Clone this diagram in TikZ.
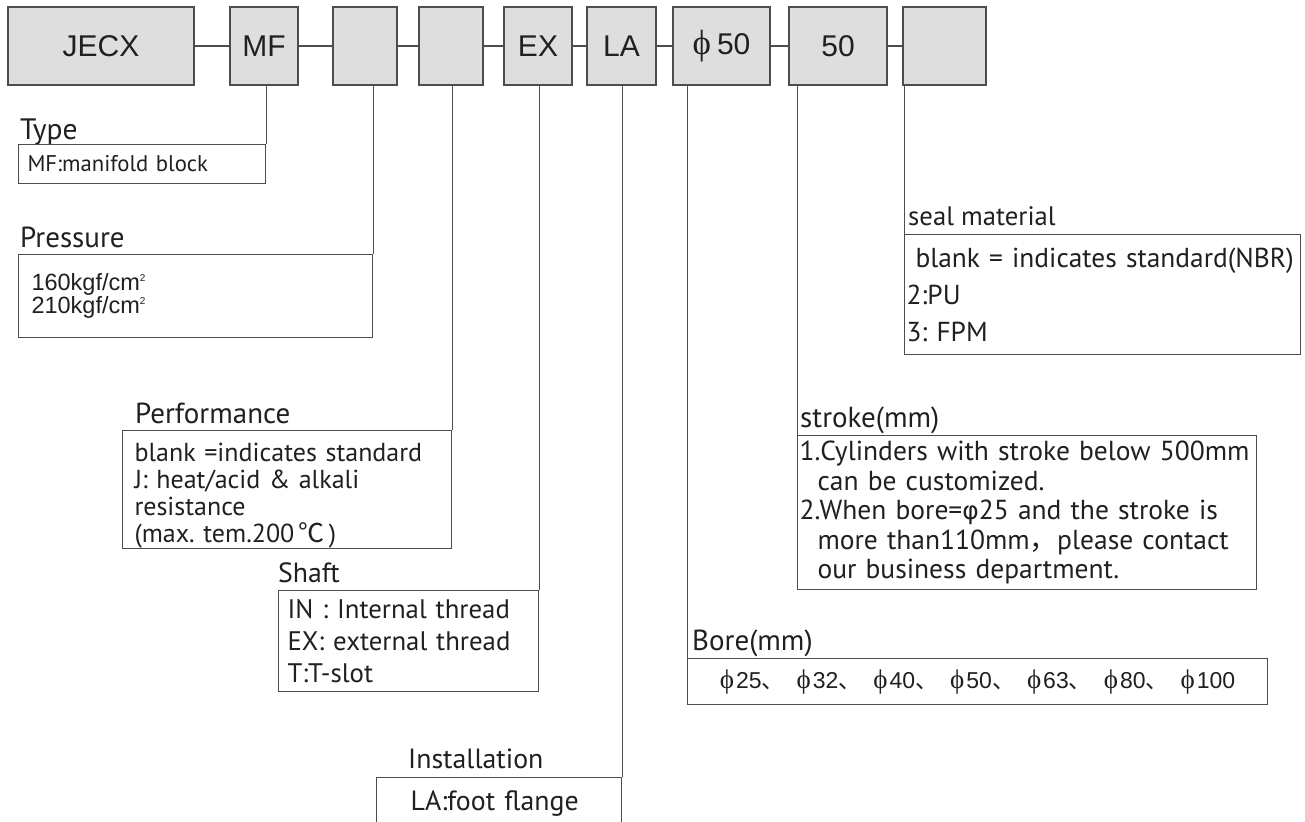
\documentclass[tikz,border=0pt]{standalone}
\usepackage{fontspec}
\setmainfont{PT Sans}
\newfontfamily\arialfont{Liberation Sans}
\newfontfamily\timesfont{Liberation Serif}
\newfontfamily\dejavufont{DejaVu Sans}
\newfontfamily\cjk{Noto Sans CJK SC}
\frenchspacing

\definecolor{boxfill}{HTML}{DEDEDE}
\definecolor{boxline}{HTML}{4D4D4D}
\definecolor{ink}{HTML}{231F20}

\newcommand{\dphi}{{\timesfont\fs{27}{27}ϕ}\hspace{2pt}}
\newcommand{\fs}[2]{\fontsize{#1}{#2}\selectfont}
\newcommand{\sep}{{\cjk 、}\hspace{12pt}}

\tikzset{
  codebox/.style={draw=boxline, fill=boxfill, line width=1.2pt, minimum height=78pt,
    inner sep=0pt, font=\arialfont\fs{30}{36}, text=ink},
  infobox/.style={draw=boxline, line width=1pt, anchor=north west, align=left,
    inner ysep=0pt, text=ink},
  caption/.style={anchor=base west, inner sep=0pt, text=ink},
  link/.style={draw=boxline, line width=1.5pt},
  lead/.style={draw=boxline, line width=1pt},
}

\begin{document}
\begin{tikzpicture}[x=1pt,y=-1pt]
  \fill[white] (0,0) rectangle (1305,821);
  \useasboundingbox (0,0) rectangle (1305,821);

  % model code
  \node[codebox, minimum width=186pt] (cJECX) at (101,46) {JECX};
  \node[codebox, minimum width=68pt] (cMF) at (264,46) {MF};
  \node[codebox, minimum width=64pt] (cPR) at (365,46) {};
  \node[codebox, minimum width=64pt] (cPF) at (451,46) {};
  \node[codebox, minimum width=68pt] (cEX) at (538,46) {EX};
  \node[codebox, minimum width=69pt] (cLA) at (621.5,46) {LA};
  \node[codebox, minimum width=97pt] (cBORE) at (721.5,46) {{\timesfont\fs{35}{35}ϕ}\hspace{6pt}50};
  \node[codebox, minimum width=98pt] (cSTROKE) at (838,46) {50};
  \node[codebox, minimum width=83pt] (cSEAL) at (944.5,46) {};
  \foreach \a/\b in {cJECX/cMF, cMF/cPR, cPR/cPF, cPF/cEX, cEX/cLA, cLA/cBORE, cBORE/cSTROKE, cSTROKE/cSEAL}
    \draw[link] (\a.east) -- (\b.west);

  % explanations
  \node[caption, font=\fs{29.5}{30}] (lType) at (20,140) {Type};
  \node[infobox, text width=229pt, minimum height=39pt, inner xsep=9pt, font=\fs{22.7}{25}] (iType) at (18,144) {MF:manifold block};

  \node[caption, font=\fs{29}{30}] (lPress) at (20,247) {Pressure};
  \node[infobox, text width=328pt, minimum height=83pt, inner xsep=13pt, font=\arialfont\fs{23.5}{20.5}] (iPress) at (18,254)
    {160kgf/cm\raisebox{9pt}{\fs{10}{10}2}\\210kgf/cm\raisebox{9pt}{\fs{10}{10}2}};

  \node[caption, font=\fs{29}{30}] (lPerf) at (135,423) {Performance};
  \node[infobox, text width=305pt, minimum height=114pt, inner xsep=12pt, font=\fs{26}{27}] (iPerf) at (122,430)
    {\rule{0pt}{31pt}blank =indicates standard\\J: heat/acid \& alkali\\resistance\\(max. tem.200\,{\cjk ℃}\,)};

  \node[caption, font=\fs{27.8}{30}] (lShaft) at (278,582) {Shaft};
  \node[infobox, text width=242pt, minimum height=101pt, inner xsep=9pt, font=\fs{26.8}{32}] (iShaft) at (278,590)
    {\mbox{IN : Internal thread}\\\mbox{EX: external thread}\\T:T-slot};

  \node[caption, font=\fs{27.8}{30}] (lInst) at (408,768) {Installation};
  \node[infobox, text width=177pt, minimum height=52pt, inner xsep=34pt, font=\fs{27.8}{30}] (iInst) at (376,777) {\mbox{LA:foot flange}};

  \node[caption, font=\fs{29}{30}] (lBore) at (692,650) {Bore(mm)};
  \node[infobox, text width=580pt, minimum height=46pt, inner xsep=0pt, align=center, font=\arialfont\fs{23}{27}] (iBore) at (687,658)
    {\dphi25\sep\dphi32\sep\dphi40\sep\dphi50\sep\dphi63\sep\dphi80\sep\dphi100};

  \node[caption, font=\fs{29}{30}] (lStroke) at (800,427) {stroke(mm)};
  \node[infobox, text width=455pt, minimum height=154pt, inner xsep=2pt, font=\fs{27.5}{29.5}] (iStroke) at (797,435)
    {\mbox{1.Cylinders with stroke below 500mm}\\
     \hspace*{18pt}can be customized.\\
     \mbox{2.When bore={\dejavufont\fs{25}{29.5}φ}25 and the stroke is}\\
     \hspace*{18pt}\mbox{more than110mm{\cjk ，}please contact}\\
     \hspace*{18pt}\mbox{our business department.}};

  \node[caption, font=\fs{26.7}{30}] (lSeal) at (908,225) {seal material};
  \node[infobox, text width=392pt, minimum height=120pt, inner xsep=2pt, font=\fs{27.4}{37}] (iSeal) at (904,234)
    {\hspace*{9pt}\mbox{blank = indicates standard(NBR)}\\2:PU\\3: FPM};

  % leaders
  \draw[lead] (iType.north east |- cMF.south) -- (iType.north east);
  \draw[lead] (iPress.north east |- cPR.south) -- (iPress.north east);
  \draw[lead] (iPerf.north east |- cPF.south) -- (iPerf.north east);
  \draw[lead] (iShaft.north east |- cEX.south) -- (iShaft.north east);
  \draw[lead] (iInst.north east |- cLA.south) -- (iInst.north east);
  \draw[lead] (iBore.north west |- cBORE.south) -- (iBore.north west);
  \draw[lead] (iStroke.north west |- cSTROKE.south) -- (iStroke.north west);
  \draw[lead] (iSeal.north west |- cSEAL.south) -- (iSeal.north west);
\end{tikzpicture}
\end{document}
